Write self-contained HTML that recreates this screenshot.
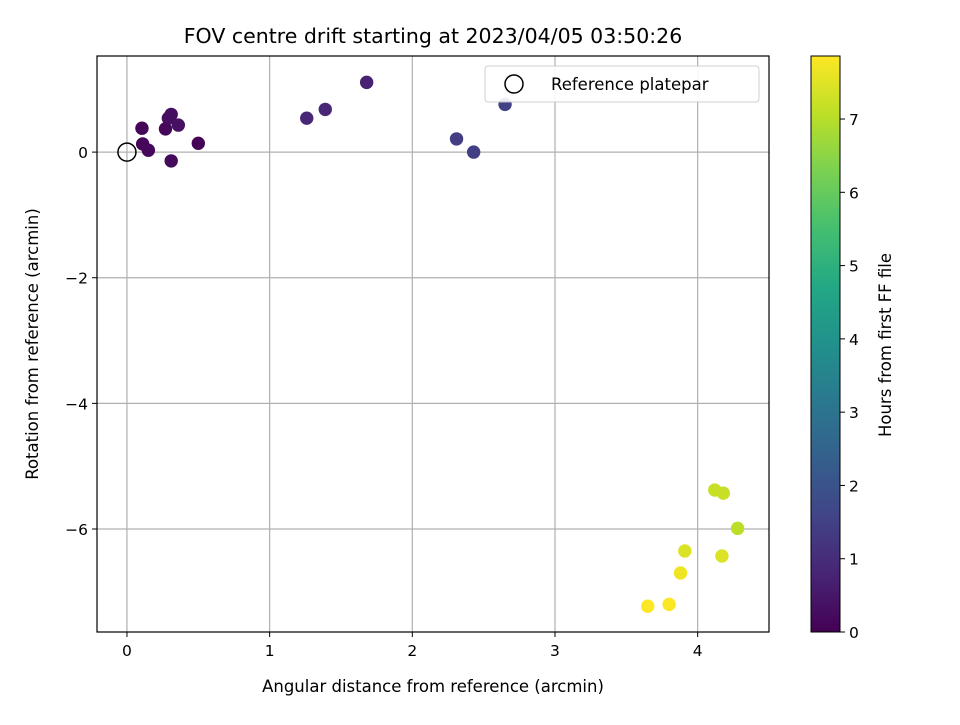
<!DOCTYPE html>
<html><head><meta charset="utf-8"><style>body{margin:0;background:#fff}svg{font-family:"DejaVu Sans","Liberation Sans",sans-serif}</style></head>
<body>
<svg id="chart" width="960" height="720">
<defs><linearGradient id="vir" x1="0" y1="1" x2="0" y2="0">
<stop offset="0" stop-color="#440154"/><stop offset="0.1" stop-color="#482475"/><stop offset="0.2" stop-color="#414487"/><stop offset="0.3" stop-color="#355f8d"/><stop offset="0.4" stop-color="#2a788e"/><stop offset="0.5" stop-color="#21918c"/><stop offset="0.6" stop-color="#22a884"/><stop offset="0.7" stop-color="#44bf70"/><stop offset="0.8" stop-color="#7ad151"/><stop offset="0.9" stop-color="#bddf26"/><stop offset="1" stop-color="#fde725"/></linearGradient></defs>
<g id="grid"></g>
<g id="pts"></g>
<g id="axes"></g>
<text x="433" y="43" text-anchor="middle" font-size="20.5">FOV centre drift starting at 2023/04/05 03:50:26</text>
<text x="433" y="692" text-anchor="middle" font-size="16.5">Angular distance from reference (arcmin)</text>
<text transform="translate(38,344) rotate(-90)" text-anchor="middle" font-size="16.5">Rotation from reference (arcmin)</text>
<g>
<rect x="485" y="66" width="274" height="36" rx="3" fill="#fff" stroke="#ccc" opacity="0.9"/>
<circle cx="514" cy="84" r="9" fill="none" stroke="#000" stroke-width="1.5"/>
<text x="551" y="90" font-size="16.5">Reference platepar</text>
</g>
<rect x="811" y="56" width="29" height="576" fill="url(#vir)" stroke="#000"/>
<g id="cbt"></g>
<text transform="translate(891,345) rotate(-90)" text-anchor="middle" font-size="16.5">Hours from first FF file</text>
</svg>
<script>
const xs=[0.105,0.11,0.15,0.31,0.29,0.27,0.36,0.50,0.31,1.26,1.39,1.68,2.31,2.43,2.65,4.12,4.18,4.28,3.91,4.17,3.88,3.80,3.65];
const ys=[0.38,0.13,0.03,0.60,0.54,0.37,0.43,0.14,-0.14,0.54,0.68,1.11,0.21,0.0,0.76,-5.38,-5.43,-5.99,-6.35,-6.43,-6.70,-7.20,-7.23];
const hours=[0.1,0.1,0.15,0.3,0.3,0.15,0.35,0.05,0.2,0.85,0.85,0.75,1.4,1.45,1.5,7.2,7.2,7.05,7.45,7.45,7.7,7.85,7.85];
const xTicks=[0,1,2,3,4];
const yTicks=[0,-2,-4,-6];
const cTicks=[0,1,2,3,4,5,6,7];
const L=97,R=769,T=56,B=632,X0=-0.21,X1=4.5,Y0=-7.64,Y1=1.53,CMAX=7.86;
const sx=v=>L+(v-X0)/(X1-X0)*(R-L), sy=v=>B-(v-Y0)/(Y1-Y0)*(B-T), sc=v=>B-v/CMAX*(B-T);
const vir=["#440154","#482475","#414487","#355f8d","#2a788e","#21918c","#22a884","#44bf70","#7ad151","#bddf26","#fde725"];
function col(h){let t=Math.max(0,Math.min(1,h/CMAX))*10,i=Math.min(9,Math.floor(t)),f=t-i;
const a=vir[i],b=vir[i+1],p=(s,k)=>parseInt(s.substr(k,2),16);
let c=[1,3,5].map(k=>Math.round(p(a,k)+(p(b,k)-p(a,k))*f));return `rgb(${c})`;}
const NS="http://www.w3.org/2000/svg";
function mk(p,tag,at,txt){const e=document.createElementNS(NS,tag);for(const k in at)e.setAttribute(k,at[k]);if(txt!==undefined)e.textContent=txt;p.appendChild(e);return e;}
const g=document.getElementById('grid'),ax=document.getElementById('axes'),pts=document.getElementById('pts'),cb=document.getElementById('cbt');
xTicks.forEach(v=>{const x=sx(v);
const l=mk(g,'line',{x1:x,x2:x,y1:T,y2:B,stroke:'#b0b0b0','stroke-width':1.2});

mk(ax,'line',{x1:x,x2:x,y1:B,y2:B+5,stroke:'#000'});
const t=mk(ax,'text',{x:x,y:B+24,'text-anchor':'middle','font-size':15.5},String(v));
});
yTicks.forEach(v=>{const y=sy(v);
const l=mk(g,'line',{x1:L,x2:R,y1:y,y2:y,stroke:'#b0b0b0','stroke-width':1.2});

mk(ax,'line',{x1:L-5,x2:L,y1:y,y2:y,stroke:'#000'});
const t=mk(ax,'text',{x:L-9,y:y+6,'text-anchor':'end','font-size':15.5},v<0?'\u2212'+(-v):String(v));
});
xs.forEach((v,i)=>{const c=mk(pts,'circle',{cx:sx(v),cy:sy(ys[i]),r:6.7,fill:col(hours[i])});
});
const ref=mk(pts,'circle',{cx:sx(0),cy:sy(0),r:9,fill:'none',stroke:'#000','stroke-width':1.5});

mk(ax,'rect',{x:L,y:T,width:R-L,height:B-T,fill:'none',stroke:'#000','stroke-width':1.2});
cTicks.forEach(v=>{const y=sc(v);mk(cb,'line',{x1:840,x2:845,y1:y,y2:y,stroke:'#000'});
const t=mk(cb,'text',{x:849,y:y+6,'font-size':15.5},String(v));
});
</script>
</body></html>
